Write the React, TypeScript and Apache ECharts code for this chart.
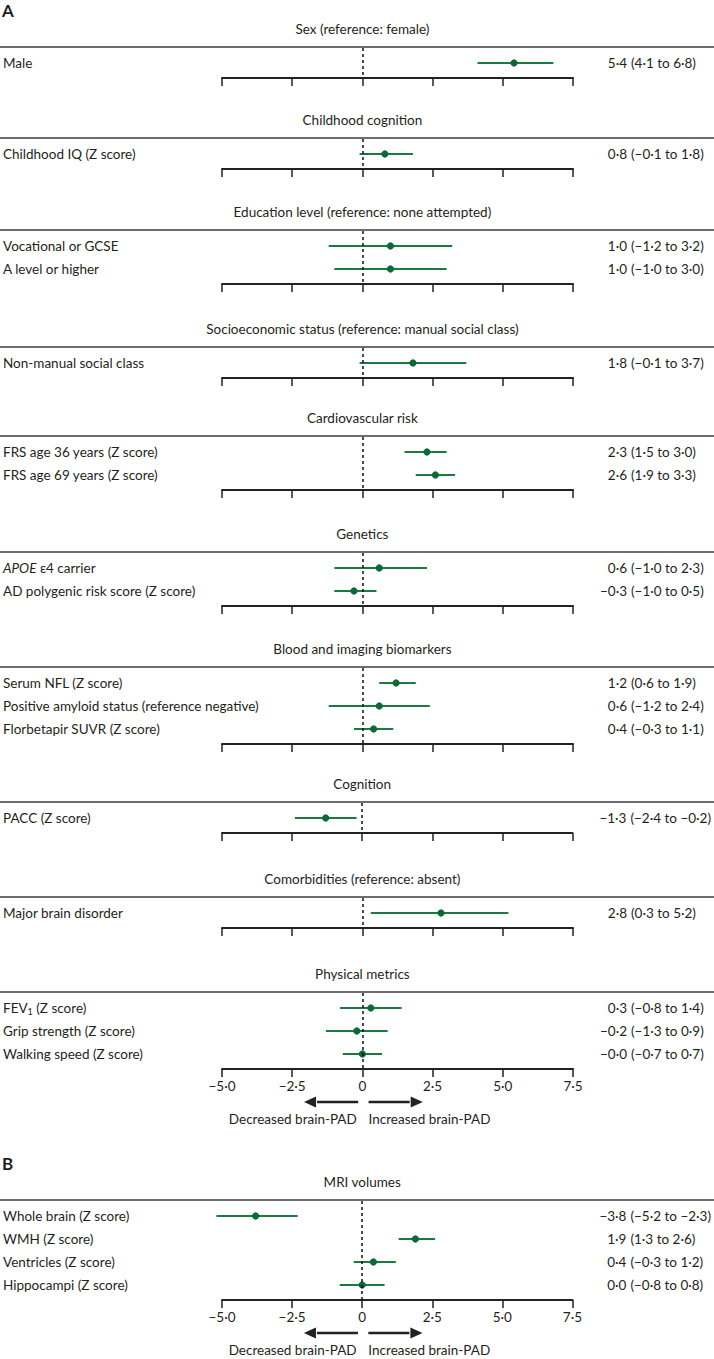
import React, { useEffect, useRef } from "react";
import * as echarts from "echarts";

// ---------- DATA ----------
const sectionLabels = ["A", "B"];
const groupTitles = [
  "Sex (reference: female)",
  "Childhood cognition",
  "Education level (reference: none attempted)",
  "Socioeconomic status (reference: manual social class)",
  "Cardiovascular risk",
  "Genetics",
  "Blood and imaging biomarkers",
  "Cognition",
  "Comorbidities (reference: absent)",
  "Physical metrics",
  "MRI volumes",
];
const groupSection = [0, 0, 0, 0, 0, 0, 0, 0, 0, 0, 1];
const rowLabels = [
  "Male",
  "Childhood IQ (Z score)",
  "Vocational or GCSE",
  "A level or higher",
  "Non-manual social class",
  "FRS age 36 years (Z score)",
  "FRS age 69 years (Z score)",
  "{i|APOE} ε4 carrier",
  "AD polygenic risk score (Z score)",
  "Serum NFL (Z score)",
  "Positive amyloid status (reference negative)",
  "Florbetapir SUVR (Z score)",
  "PACC (Z score)",
  "Major brain disorder",
  "FEV{sub|1} (Z score)",
  "Grip strength (Z score)",
  "Walking speed (Z score)",
  "Whole brain (Z score)",
  "WMH (Z score)",
  "Ventricles (Z score)",
  "Hippocampi (Z score)",
];
const rowGroup = [0, 1, 2, 2, 3, 4, 4, 5, 5, 6, 6, 6, 7, 8, 9, 9, 9, 10, 10, 10, 10];
const estimates = [5.4, 0.8, 1.0, 1.0, 1.8, 2.3, 2.6, 0.6, -0.3, 1.2, 0.6, 0.4, -1.3, 2.8, 0.3, -0.2, -0.0, -3.8, 1.9, 0.4, 0.0];
const lower = [4.1, -0.1, -1.2, -1.0, -0.1, 1.5, 1.9, -1.0, -1.0, 0.6, -1.2, -0.3, -2.4, 0.3, -0.8, -1.3, -0.7, -5.2, 1.3, -0.3, -0.8];
const upper = [6.8, 1.8, 3.2, 3.0, 3.7, 3.0, 3.3, 2.3, 0.5, 1.9, 2.4, 1.1, -0.2, 5.2, 1.4, 0.9, 0.7, -2.3, 2.6, 1.2, 0.8];
const xTicks = [-5, -2.5, 0, 2.5, 5, 7.5];
const directionLabels = ["Decreased brain-PAD", "Increased brain-PAD"];

// ---------- LAYOUT / STYLE ----------
const W = 714;
const H = 1359;
const FONT = 'Lato, "Open Sans", sans-serif';
const FS = 13.5;
const TEXT = "#231f20";
const GREEN = "#1b7a40";
const DOT = "#0b6a34";
const GRID_LEFT = 221;
const GRID_WIDTH = 352;
const SEP_Y = [47, 138, 230, 347, 436, 552, 667, 802, 897, 992, 1200];
const SECTION_Y = [10, 1163];
const ROW_H = 23;
const PAD_TOP = 16;
const PAD_BOT = 15;
const EST_RIGHT = 627; // right edge of estimate text
const CI_LEFT = 631; // left edge of "(" of CI text

function fmt(v: number): string {
  const neg = v < 0 || Object.is(v, -0);
  return (neg ? "\u2212" : "") + Math.abs(v).toFixed(1).replace(".", "\u00b7");
}

export default function App() {
  const ref = useRef<HTMLDivElement>(null);
  useEffect(() => {
    if (!ref.current) return;
    const chart = echarts.init(ref.current, undefined, { renderer: "svg" });
    const nGroups = groupTitles.length;
    const grids: any[] = [];
    const xAxes: any[] = [];
    const yAxes: any[] = [];
    const series: any[] = [];
    const axisYs: number[] = [];
    const lastOfSection: boolean[] = [];
    const gridRight = GRID_LEFT + GRID_WIDTH;
    for (let g = 0; g < nGroups; g++) {
      const idx = rowGroup.map((gg, i) => (gg === g ? i : -1)).filter((i) => i >= 0);
      const n = idx.length;
      const sep = SEP_Y[g];
      const top = sep + 1;
      const height = PAD_TOP - 1 + ROW_H * (n - 1) + PAD_BOT;
      axisYs.push(top + height);
      const last = g === nGroups - 1 || groupSection[g + 1] !== groupSection[g];
      lastOfSection.push(last);
      grids.push({ left: GRID_LEFT, width: GRID_WIDTH, top, height });
      xAxes.push({
        type: "value",
        gridIndex: g,
        min: xTicks[0],
        max: xTicks[xTicks.length - 1],
        interval: 2.5,
        position: "bottom",
        axisLine: { onZero: false, lineStyle: { color: "#222", width: 2 } },
        axisTick: { show: true, length: 8, lineStyle: { color: "#222", width: 1.5 } },
        splitLine: { show: false },
        axisLabel: {
          show: last,
          margin: 10,
          fontFamily: FONT,
          fontSize: FS,
          color: TEXT,
          formatter: (v: number) => (v === 0 ? "0" : fmt(v)),
        },
      });
      const yMin = -(PAD_TOP - 1) / ROW_H;
      const yMax = n - 1 + PAD_BOT / ROW_H;
      const positions = idx.map((_, k) => k);
      const baseY = {
        type: "value",
        gridIndex: g,
        inverse: true,
        min: yMin,
        max: yMax,
        axisLine: { show: false },
        axisTick: { show: false },
        splitLine: { show: false },
      };
      // left: row labels
      yAxes.push({
        ...baseY,
        position: "left",
        axisLabel: {
          customValues: positions,
          align: "left",
          margin: GRID_LEFT - 2,
          fontFamily: FONT,
          fontSize: FS,
          color: TEXT,
          formatter: (v: number) => rowLabels[idx[Math.round(v)]] ?? "",
          rich: {
            i: { fontStyle: "italic", fontFamily: FONT, fontSize: FS, color: TEXT },
            sub: { fontSize: 9, fontFamily: FONT, color: TEXT, padding: [7, 0, 0, 0] },
          },
        },
      });
      // right: estimate (right aligned)
      yAxes.push({
        ...baseY,
        position: "right",
        axisLabel: {
          customValues: positions,
          align: "right",
          margin: EST_RIGHT - gridRight,
          fontFamily: FONT,
          fontSize: FS,
          color: TEXT,
          formatter: (v: number) => {
            const i = idx[Math.round(v)];
            return i === undefined ? "" : fmt(estimates[i]);
          },
        },
      });
      // right: CI (left aligned)
      yAxes.push({
        ...baseY,
        position: "right",
        axisLabel: {
          customValues: positions,
          align: "left",
          margin: CI_LEFT - gridRight,
          fontFamily: FONT,
          fontSize: FS,
          color: TEXT,
          formatter: (v: number) => {
            const i = idx[Math.round(v)];
            return i === undefined ? "" : `(${fmt(lower[i])} to ${fmt(upper[i])})`;
          },
        },
      });
      series.push({
        type: "custom",
        xAxisIndex: g,
        yAxisIndex: 3 * g,
        data: idx.map((i, k) => [lower[i], upper[i], estimates[i], k]),
        encode: { x: [0, 1, 2], y: 3 },
        renderItem: (params: any, api: any) => {
          const y = api.value(3);
          const p1 = api.coord([api.value(0), y]);
          const p2 = api.coord([api.value(1), y]);
          const pc = api.coord([api.value(2), y]);
          return {
            type: "group",
            children: [
              {
                type: "line",
                shape: { x1: p1[0], y1: p1[1], x2: p2[0], y2: p2[1] },
                style: { stroke: GREEN, lineWidth: 1.8 },
              },
              {
                type: "circle",
                shape: { cx: pc[0], cy: pc[1], r: 3.6 },
                style: { fill: DOT },
              },
            ],
          };
        },
        markLine: {
          silent: true,
          symbol: ["none", "none"],
          label: { show: false },
          lineStyle: { color: "#111", type: [3, 3], width: 1.5 },
          data: [{ xAxis: 0 }],
        },
        z: 3,
      });
    }

    chart.setOption({
      animation: false,
      backgroundColor: "#ffffff",
      textStyle: { fontFamily: FONT },
      grid: grids,
      xAxis: xAxes,
      yAxis: yAxes,
      series,
    });

    const gx = (g: number, v: number) => chart.convertToPixel({ xAxisIndex: g }, v) as number;
    const graphic: any[] = [];
    sectionLabels.forEach((s, k) => {
      graphic.push({
        type: "text",
        x: 2,
        y: SECTION_Y[k],
        style: {
          text: s,
          fontFamily: FONT,
          fontSize: 17,
          fontWeight: "bold",
          fill: TEXT,
          verticalAlign: "middle",
        },
      });
    });
    for (let g = 0; g < groupTitles.length; g++) {
      const sep = SEP_Y[g];
      graphic.push({
        type: "line",
        shape: { x1: 0, y1: sep, x2: W, y2: sep },
        style: { stroke: "#3d3d3d", lineWidth: 1.5 },
      });
      graphic.push({
        type: "text",
        x: gx(g, 0),
        y: sep - 18,
        style: {
          text: groupTitles[g],
          fontFamily: FONT,
          fontSize: FS,
          fill: TEXT,
          align: "center",
          verticalAlign: "middle",
        },
      });
      if (lastOfSection[g]) {
        const ay = axisYs[g] + 33;
        const ty = axisYs[g] + 50;
        const l0 = gx(g, -0.15), l1 = gx(g, -1.65), l2 = gx(g, -2.08);
        const r0 = gx(g, 0.22), r1 = gx(g, 1.72), r2 = gx(g, 2.15);
        graphic.push({ type: "line", shape: { x1: l0, y1: ay, x2: l1 + 1, y2: ay }, style: { stroke: "#222", lineWidth: 2.5 } });
        graphic.push({ type: "polygon", shape: { points: [[l2, ay], [l1, ay - 5.5], [l1, ay + 5.5]] }, style: { fill: "#222" } });
        graphic.push({ type: "line", shape: { x1: r0, y1: ay, x2: r1 - 1, y2: ay }, style: { stroke: "#222", lineWidth: 2.5 } });
        graphic.push({ type: "polygon", shape: { points: [[r2, ay], [r1, ay - 5.5], [r1, ay + 5.5]] }, style: { fill: "#222" } });
        graphic.push({
          type: "text",
          x: gx(g, -0.2),
          y: ty,
          style: { text: directionLabels[0], fontFamily: FONT, fontSize: FS, fill: TEXT, align: "right", verticalAlign: "middle" },
        });
        graphic.push({
          type: "text",
          x: gx(g, 0.22),
          y: ty,
          style: { text: directionLabels[1], fontFamily: FONT, fontSize: FS, fill: TEXT, align: "left", verticalAlign: "middle" },
        });
      }
    }
    chart.setOption({ graphic });
    return () => chart.dispose();
  }, []);
  return (
    <div
      ref={ref}
      style={{ position: "absolute", left: 0, top: 0, width: W, height: H, background: "#fff" }}
    />
  );
}
